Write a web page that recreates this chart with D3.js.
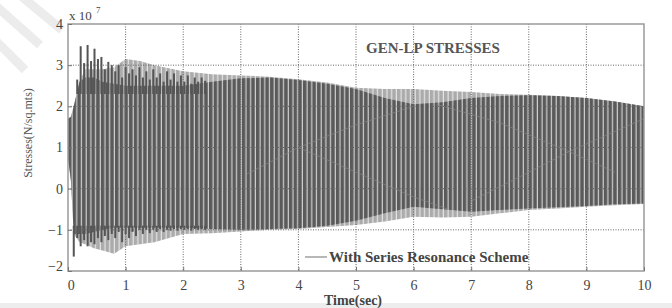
<!DOCTYPE html>
<html>
<head>
<meta charset="utf-8">
<script src="https://d3js.org/d3.v7.min.js"></script>
<style>
  body { margin: 0; background: #fff; }
  svg { display: block; }
</style>
</head>
<body>
<div id="chart"></div>
<script>

// envelope of the stress signal, units of 1e7 N/sq.mts
var times   = [0, 0.05, 0.1, 0.2, 0.3, 0.45, 0.6, 0.8, 1, 1.25, 1.5, 2, 2.5, 3, 3.5, 4, 4.5, 5, 5.5, 6, 6.5, 7, 7.5, 8, 8.5, 9, 9.5, 10];
var darkHi  = [1.7, 1.75, 2.0, 2.6, 2.7, 2.7, 2.6, 2.55, 2.5, 2.5, 2.5, 2.5, 2.6, 2.68, 2.7, 2.64, 2.55, 2.42, 2.2, 2.05, 2.1, 2.2, 2.25, 2.27, 2.25, 2.2, 2.12, 2.0];
var darkLo  = [0.75, 0.2, -1.1, -1.1, -1.1, -1.05, -1.0, -0.95, -0.95, -0.95, -0.95, -0.95, -0.98, -1.0, -0.98, -0.96, -0.9, -0.78, -0.6, -0.44, -0.5, -0.56, -0.52, -0.48, -0.45, -0.42, -0.38, -0.36];
var lightHi = [1.7, 1.75, 2.0, 2.6, 2.9, 2.9, 2.9, 2.95, 3.15, 3.1, 3.0, 2.85, 2.78, 2.75, 2.72, 2.66, 2.58, 2.45, 2.42, 2.42, 2.38, 2.35, 2.3, 2.28, 2.25, 2.2, 2.12, 2.0];
var lightLo = [0.75, 0.2, -1.1, -1.3, -1.35, -1.45, -1.5, -1.58, -1.4, -1.35, -1.3, -1.1, -1.08, -1.04, -1.0, -0.98, -0.93, -0.88, -0.8, -0.68, -0.7, -0.68, -0.6, -0.52, -0.48, -0.44, -0.4, -0.37];

// individual early oscillation swings (peak / trough per cycle)
var swingT  = [0.1, 0.16, 0.22, 0.28, 0.34, 0.4, 0.46, 0.52, 0.58, 0.64, 0.7, 0.76, 0.82, 0.88, 0.94, 1.0, 1.06, 1.12, 1.18, 1.24, 1.3, 1.36, 1.42, 1.48, 1.54, 1.6, 1.66, 1.72, 1.78, 1.84, 1.9, 1.96, 2.02, 2.08, 2.14, 2.2, 2.26, 2.32, 2.38];
var swingHi = [2.0, 2.65, 3.46, 3.05, 3.49, 3.1, 3.4, 3.15, 3.2, 2.9, 3.08, 3.0, 2.85, 3.0, 2.7, 2.95, 2.8, 2.9, 2.75, 2.95, 2.7, 2.85, 2.65, 2.9, 2.7, 2.8, 2.6, 2.85, 2.65, 2.8, 2.6, 2.75, 2.6, 2.75, 2.55, 2.7, 2.6, 2.7, 2.62];
var swingLo = [-1.65, -1.2, -1.4, -1.25, -1.4, -1.3, -1.35, -1.2, -1.3, -1.15, -1.25, -1.1, -1.2, -1.05, -1.3, -1.1, -1.2, -1.05, -1.15, -1.0, -1.1, -1.0, -1.08, -1.0, -1.05, -0.98, -1.05, -1.0, -1.02, -0.98, -1.02, -0.98, -1.0, -0.98, -1.02, -0.98, -1.0, -0.98, -1.0];

// beat lines (crossing inner edges)
var beatTimes = [[3.1, 4.0, 5.0, 6.0], [4.0, 5.0, 6.0, 6.6], [6.4, 7.5, 8.7, 9.5], [7.0, 8.0, 8.7, 10]];
var beatVals  = [[0.35, 1.0, 1.55, 2.0], [1.0, 0.4, -0.2, -0.5], [2.05, 1.6, 0.9, 0.4], [-0.3, 0.4, 0.9, 1.7]];

var xTicks = [0, 1, 2, 3, 4, 5, 6, 7, 8, 9, 10];
var yTicks = [-2, -1, 0, 1, 2, 3, 4];

var W = 672, H = 308;
var pL = 68, pR = 644, pT = 24, pB = 271;

var svg = d3.select("#chart").append("svg")
  .attr("width", W)
  .attr("height", H);

var x = d3.scaleLinear().domain([0, 10]).range([pL, pR]);
var y = d3.scaleLinear().domain([-2, 4]).range([pB, pT]);

// faint watermark top-left
svg.append("path")
  .attr("d", "M-5,5 L40,45 M20,-5 L62,30 M-5,40 L25,70")
  .attr("stroke", "#ececec").attr("stroke-width", 9).attr("fill", "none");

// bottom grey strip
svg.append("rect").attr("x", 0).attr("y", 303).attr("width", W).attr("height", 5).attr("fill", "#ededed");

svg.append("rect").attr("x", pL).attr("y", pT).attr("width", pR - pL).attr("height", pB - pT)
  .attr("fill", "#fff");

// stripe patterns for the oscillation texture
var defs = svg.append("defs");
function stripes(id, base, gap) {
  var p = defs.append("pattern").attr("id", id)
    .attr("patternUnits", "userSpaceOnUse")
    .attr("width", 4.7).attr("height", 10).attr("x", pL);
  p.append("rect").attr("width", 4.7).attr("height", 10).attr("fill", base);
  p.append("rect").attr("x", 3.5).attr("width", 1.2).attr("height", 10).attr("fill", gap);
}
stripes("lightStripe", "#ababab", "#e4e4e4");
stripes("darkStripe", "#5a5a5a", "#cfcfcf");

var idx = d3.range(times.length);

var lightArea = d3.area()
  .x(function(i) { return x(times[i]); })
  .y0(function(i) { return y(lightLo[i]); })
  .y1(function(i) { return y(lightHi[i]); });

var darkArea = d3.area()
  .x(function(i) { return x(times[i]); })
  .y0(function(i) { return y(darkLo[i]); })
  .y1(function(i) { return y(darkHi[i]); });

svg.append("path").datum(idx).attr("d", lightArea).attr("fill", "url(#lightStripe)");
svg.append("path").datum(idx).attr("d", darkArea).attr("fill", "url(#darkStripe)");

// early swings: the parts of each cycle that poke out of the band
var splitHi = 2.3, splitLo = -0.9;
var swings = svg.append("g").attr("fill", "#555");
swings.selectAll(".swingTop")
  .data(swingT)
  .enter().append("rect")
  .attr("x", function(d) { return x(d) - 1; })
  .attr("width", 2)
  .attr("y", function(d, i) { return y(swingHi[i]); })
  .attr("height", function(d, i) { return Math.max(0, y(splitHi) - y(swingHi[i])); });
swings.selectAll(".swingBot")
  .data(swingT)
  .enter().append("rect")
  .attr("x", function(d) { return x(d) - 1; })
  .attr("width", 2)
  .attr("y", y(splitLo))
  .attr("height", function(d, i) { return Math.max(0, y(swingLo[i]) - y(splitLo)); });

var beatLine = d3.line()
  .x(function(d) { return x(d[0]); })
  .y(function(d) { return y(d[1]); });

svg.selectAll(".beat")
  .data(beatTimes.map(function(ts, k) { return ts.map(function(t, j) { return [t, beatVals[k][j]]; }); }))
  .enter().append("path")
  .attr("class", "beat")
  .attr("d", beatLine)
  .attr("fill", "none")
  .attr("stroke", "#8c8c8c")
  .attr("stroke-width", 1)
  .attr("opacity", 0.6);

// dotted grid
svg.selectAll(".gx").data(xTicks.slice(1, -1)).enter().append("line")
  .attr("x1", function(d) { return x(d); }).attr("x2", function(d) { return x(d); })
  .attr("y1", pT).attr("y2", pB)
  .attr("stroke", "#666").attr("stroke-width", 1).attr("stroke-dasharray", "1,1.5");
svg.selectAll(".gy").data(yTicks.slice(1, -1)).enter().append("line")
  .attr("x1", pL).attr("x2", pR)
  .attr("y1", function(d) { return y(d); }).attr("y2", function(d) { return y(d); })
  .attr("stroke", "#666").attr("stroke-width", 1).attr("stroke-dasharray", "1,1.5");

// frame
svg.append("rect").attr("x", pL).attr("y", pT).attr("width", pR - pL).attr("height", pB - pT)
  .attr("fill", "none").attr("stroke", "#9a9a9a").attr("stroke-width", 1.5);

// axes
var xAxis = d3.axisBottom(x).tickValues(xTicks).tickSize(-4).tickPadding(9).tickFormat(d3.format("d"));
var yAxis = d3.axisLeft(y).tickValues(yTicks).tickSize(-4).tickPadding(5).tickFormat(d3.format("d"));

var gx = svg.append("g").attr("transform", "translate(0," + pB + ")").call(xAxis);
var gy = svg.append("g").attr("transform", "translate(" + pL + ",0)").call(yAxis);
[gx, gy].forEach(function(g) {
  g.select(".domain").remove();
  g.selectAll(".tick line").attr("stroke", "#777");
  g.selectAll("text").attr("font-family", "Liberation Serif").attr("font-size", "14px").attr("fill", "#444");
});
gy.selectAll(".tick").filter(function(d) { return d === -2; }).select("text").attr("dy", "-0.05em");
gx.selectAll(".tick").filter(function(d) { return d === 0; }).select("text").attr("dx", "0.2em");

svg.append("text").attr("x", 69).attr("y", 20)
  .attr("font-family", "Liberation Serif").attr("font-size", "13px").attr("fill", "#444")
  .text("x 10");
svg.append("text").attr("x", 96).attr("y", 13)
  .attr("font-family", "Liberation Serif").attr("font-size", "9px").attr("fill", "#444")
  .text("7");

// title
svg.append("text").attr("x", 433).attr("y", 53).attr("text-anchor", "middle")
  .attr("font-family", "Liberation Serif").attr("font-size", "15px").attr("font-weight", "bold")
  .attr("fill", "#555").text("GEN-LP STRESSES");

// legend
svg.append("line").attr("x1", 305).attr("x2", 327).attr("y1", 257).attr("y2", 257)
  .attr("stroke", "#888").attr("stroke-width", 1.2);
svg.append("text").attr("x", 329).attr("y", 262)
  .attr("font-family", "Liberation Serif").attr("font-size", "15px").attr("font-weight", "bold")
  .attr("fill", "#444").text("With Series Resonance Scheme");

// axis labels
svg.append("text").attr("x", 353).attr("y", 305).attr("text-anchor", "middle")
  .attr("font-family", "Liberation Serif").attr("font-size", "14px").attr("font-weight", "bold")
  .attr("fill", "#444").text("Time(sec)");
svg.append("text").attr("transform", "translate(32,133) rotate(-90)").attr("text-anchor", "middle")
  .attr("font-family", "Liberation Serif").attr("font-size", "12px")
  .attr("fill", "#555").text("Stresses(N/sq.mts)");

</script>
</body>
</html>
